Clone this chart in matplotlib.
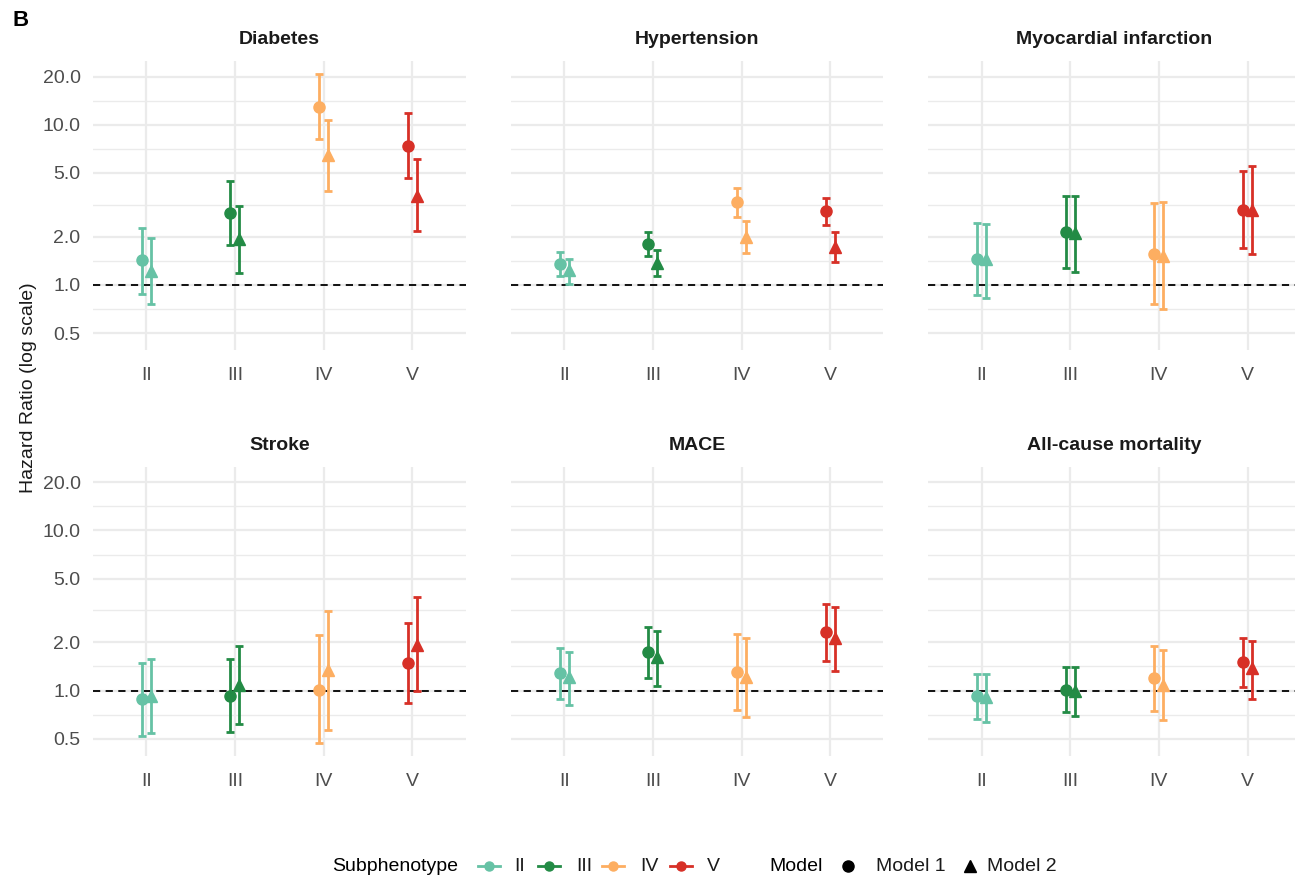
import matplotlib
matplotlib.use("Agg")
import matplotlib.pyplot as plt
from matplotlib.lines import Line2D
import numpy as np

plt.rcParams["font.family"] = ["Liberation Sans", "DejaVu Sans"]

# ---- data ----
outcomes = ["Diabetes", "Hypertension", "Myocardial infarction",
            "Stroke", "MACE", "All-cause mortality"]
subtypes = ["II", "III", "IV", "V"]
colors = ["#66C2A5", "#238B45", "#FDAE61", "#D73027"]

# rows = outcomes, cols = subtypes II..V
m1_hr = [[1.42, 2.81, 12.95, 7.39],
         [1.35, 1.80, 3.28, 2.91],
         [1.45, 2.15, 1.56, 2.95],
         [0.88, 0.93, 1.01, 1.48],
         [1.28, 1.74, 1.30, 2.31],
         [0.92, 1.01, 1.20, 1.50]]
m1_lo = [[0.88, 1.78, 8.18, 4.62],
         [1.14, 1.51, 2.64, 2.38],
         [0.86, 1.27, 0.76, 1.70],
         [0.52, 0.55, 0.47, 0.84],
         [0.88, 1.19, 0.76, 1.52],
         [0.66, 0.73, 0.75, 1.05]]
m1_hi = [[2.27, 4.45, 20.8, 11.8],
         [1.60, 2.13, 4.03, 3.49],
         [2.45, 3.61, 3.25, 5.16],
         [1.48, 1.58, 2.21, 2.63],
         [1.85, 2.50, 2.24, 3.45],
         [1.27, 1.41, 1.91, 2.13]]

m2_hr = [[1.22, 1.93, 6.47, 3.61],
         [1.23, 1.36, 2.00, 1.73],
         [1.44, 2.11, 1.52, 2.94],
         [0.92, 1.08, 1.35, 1.93],
         [1.22, 1.62, 1.22, 2.13],
         [0.91, 1.00, 1.09, 1.38]]
m2_lo = [[0.76, 1.19, 3.88, 2.17],
         [1.01, 1.14, 1.57, 1.38],
         [0.83, 1.21, 0.71, 1.56],
         [0.54, 0.62, 0.57, 1.00],
         [0.81, 1.07, 0.68, 1.33],
         [0.64, 0.69, 0.65, 0.89]]
m2_hi = [[1.96, 3.09, 10.75, 6.11],
         [1.45, 1.64, 2.49, 2.13],
         [2.40, 3.61, 3.30, 5.53],
         [1.58, 1.89, 3.16, 3.83],
         [1.74, 2.35, 2.13, 3.32],
         [1.26, 1.41, 1.80, 2.05]]

y_breaks = [0.5, 1.0, 2.0, 5.0, 10.0, 20.0]

# ---- layout ----
W, H = 1295, 888
fig = plt.figure(figsize=(W / 100, H / 100), dpi=100)

col_left = [93, 511, 928.3]
row_top = [61, 466.7]
pw, ph = 372.5, 289.5
grid_c = "#EBEBEB"
text_c = "#4D4D4D"

models = [(m1_hr, m1_lo, m1_hi, "o", 8.0, -0.05),
          (m2_hr, m2_lo, m2_hi, "^", 9.0, 0.05)]

xs = np.arange(1, len(subtypes) + 1)
minor = [np.sqrt(a * b) for a, b in zip(y_breaks[:-1], y_breaks[1:])]

for k, name in enumerate(outcomes):
    r, c = divmod(k, 3)
    ax = fig.add_axes([col_left[c] / W, 1 - (row_top[r] + ph) / H, pw / W, ph / H])
    ax.set_yscale("log")
    ax.set_ylim(0.389, 25.0)
    ax.set_xlim(0.4, 4.6)
    ax.set_yticks(y_breaks)
    ax.set_yticks(minor, minor=True)
    ax.set_yticklabels([f"{v:.1f}" for v in y_breaks] if c == 0 else [])
    ax.yaxis.set_minor_formatter(plt.NullFormatter())
    ax.set_xticks(xs)
    ax.set_xticklabels(subtypes)
    ax.tick_params(which="both", length=0, labelsize=14, labelcolor=text_c)
    ax.tick_params(axis="y", pad=9)
    ax.tick_params(axis="x", pad=12)
    for s in ax.spines.values():
        s.set_visible(False)
    ax.grid(True, which="major", color=grid_c, lw=1.6)
    ax.grid(True, which="minor", axis="y", color=grid_c, lw=1.0)
    ax.set_axisbelow(True)
    ax.axhline(1.0, color="black", lw=1.3, ls=(0, (4, 3)), zorder=2)

    for hr, lo, hi, mk, ms, dx in models:
        for j in range(len(subtypes)):
            y = hr[k][j]
            ax.errorbar(xs[j] + dx, y, yerr=[[y - lo[k][j]], [hi[k][j] - y]],
                        fmt="none", ecolor=colors[j], elinewidth=2.0,
                        capsize=2.6, capthick=2.0, zorder=3)
            ax.plot(xs[j] + dx, y, marker=mk, ms=ms, color=colors[j],
                    ls="none", zorder=4)

    ax.set_title(name, fontsize=14, fontweight="bold", color="#1A1A1A", pad=12)

fig.text(29 / W, 1 - 388 / H, "Hazard Ratio (log scale)", rotation=90,
         ha="center", va="center", fontsize=14, color="#1A1A1A")
fig.text(12 / W, 1 - 21 / H, "B", fontsize=16, fontweight="bold",
         ha="left", va="center")

# ---- legend (manual, ggplot-style horizontal) ----
ly = 1 - 866 / H


def fx(px):
    return px / W


fig.text(fx(331.7), ly, "Subphenotype", fontsize=14, va="center", ha="left")
key_x = [489, 549, 613, 681]
lab_x = [514, 576, 640, 707]
for kx, lx, col, lab in zip(key_x, lab_x, colors, subtypes):
    fig.add_artist(Line2D([fx(kx - 11), fx(kx + 11)], [ly, ly],
                          transform=fig.transFigure, color=col, lw=2.0))
    fig.add_artist(Line2D([fx(kx)], [ly], transform=fig.transFigure,
                          marker="o", ms=6.5, color=col, ls="none"))
    fig.text(fx(lx), ly, lab, fontsize=14, va="center", ha="left",
             color="#1A1A1A")

fig.text(fx(769), ly, "Model", fontsize=14, va="center", ha="left")
for kx, lx, mk, lab in [(848, 876, "o", "Model 1"), (970, 987, "^", "Model 2")]:
    fig.add_artist(Line2D([fx(kx)], [ly], transform=fig.transFigure,
                          marker=mk, ms=8, color="black", ls="none"))
    fig.text(fx(lx), ly, lab, fontsize=14, va="center", ha="left",
             color="#1A1A1A")

fig.savefig("out.png", dpi=100)
